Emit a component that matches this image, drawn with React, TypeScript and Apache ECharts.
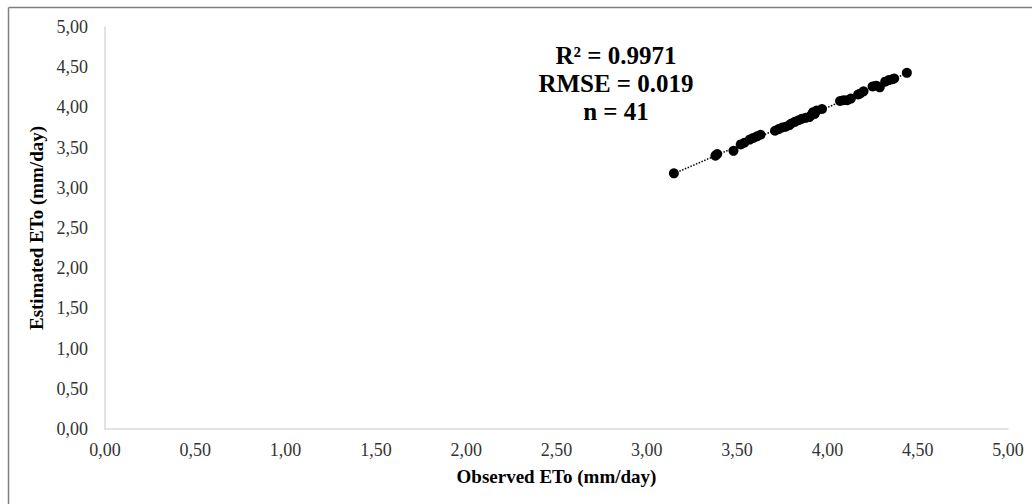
import React, { useEffect, useRef } from "react";
import * as echarts from "echarts";

const observed = [
  3.15, 3.38, 3.39, 3.48, 3.52, 3.54, 3.57, 3.59, 3.61, 3.63,
  3.71, 3.73, 3.75, 3.77, 3.79, 3.8, 3.82, 3.84, 3.86, 3.88,
  3.9, 3.91, 3.92, 3.93, 3.94, 3.97, 4.07, 4.09, 4.11, 4.13,
  4.17, 4.18, 4.2, 4.25, 4.27, 4.29, 4.32, 4.34, 4.36, 4.37, 4.44,
];
const estimated = [
  3.18, 3.4, 3.42, 3.46, 3.54, 3.56, 3.6, 3.62, 3.64, 3.66,
  3.71, 3.73, 3.75, 3.76, 3.78, 3.8, 3.82, 3.84, 3.86, 3.87,
  3.88, 3.9, 3.94, 3.92, 3.96, 3.98, 4.08, 4.09, 4.09, 4.11,
  4.16, 4.17, 4.2, 4.26, 4.27, 4.25, 4.32, 4.34, 4.35, 4.36, 4.43,
];
const axisTicks = [0, 0.5, 1, 1.5, 2, 2.5, 3, 3.5, 4, 4.5, 5];
const statsLines = ["R² = 0.9971", "RMSE = 0.019", "n = 41"];
const xTitle = "Observed ETo (mm/day)";
const yTitle = "Estimated ETo (mm/day)";

const FONT = "'Liberation Serif', 'Times New Roman', serif";

function fmt(v: number) {
  return v.toFixed(2).replace(".", ",");
}

export default function App() {
  const ref = useRef<HTMLDivElement>(null);
  useEffect(() => {
    if (!ref.current) return;
    const chart = echarts.init(ref.current, undefined, { renderer: "svg" });
    const pts = observed.map((x, i) => [x, estimated[i]]);
    const n = observed.length;
    const mx = observed.reduce((a, b) => a + b, 0) / n;
    const my = estimated.reduce((a, b) => a + b, 0) / n;
    let sxy = 0, sxx = 0;
    for (let i = 0; i < n; i++) {
      sxy += (observed[i] - mx) * (estimated[i] - my);
      sxx += (observed[i] - mx) ** 2;
    }
    const slope = sxy / sxx;
    const icpt = my - slope * mx;
    const xmin = Math.min(...observed);
    const xmax = Math.max(...observed);
    const trend = [
      [xmin, icpt + slope * xmin],
      [xmax, icpt + slope * xmax],
    ];
    const axisCommon = {
      type: "value" as const,
      min: axisTicks[0],
      max: axisTicks[axisTicks.length - 1],
      interval: axisTicks[1] - axisTicks[0],
      axisLine: { show: true, lineStyle: { color: "#d9d9d9", width: 1.5 } },
      axisTick: { show: false },
      splitLine: { show: false },
      axisLabel: {
        color: "#333",
        fontFamily: FONT,
        fontSize: 18,
        formatter: (v: number) => fmt(v),
      },
      nameLocation: "middle" as const,
      nameTextStyle: {
        color: "#000",
        fontFamily: FONT,
        fontSize: 19,
        fontWeight: "bold" as const,
      },
    };
    chart.setOption({
      animation: false,
      grid: { left: 105, right: 24, top: 27, bottom: 75, containLabel: false },
      xAxis: {
        ...axisCommon,
        name: xTitle,
        nameGap: 38,
        axisLabel: { ...axisCommon.axisLabel, margin: 12 },
      },
      yAxis: {
        ...axisCommon,
        name: yTitle,
        nameGap: 58,
        axisLabel: { ...axisCommon.axisLabel, margin: 17 },
      },
      series: [
        {
          type: "line",
          data: trend,
          symbol: "none",
          lineStyle: { color: "#000", width: 1.5, type: "dotted" },
          z: 1,
        },
        {
          type: "scatter",
          data: pts,
          symbol: "circle",
          symbolSize: 10,
          itemStyle: { color: "#000", opacity: 1 },
          z: 2,
        },
      ],
      graphic: [
        {
          type: "line",
          shape: { x1: 8.5, y1: 7.5, x2: 1040, y2: 7.5 },
          style: { stroke: "#808080", lineWidth: 1.5 },
        },
        {
          type: "line",
          shape: { x1: 8.5, y1: 7.5, x2: 8.5, y2: 520 },
          style: { stroke: "#808080", lineWidth: 1.5 },
        },
        {
          type: "text",
          x: 616,
          y: 41,
          style: {
            text: statsLines.join("\n"),
            fill: "#000",
            font: `bold 25px ${FONT}`,
            lineHeight: 28,
            align: "center",
            verticalAlign: "top",
          },
        } as any,
      ],
    });
    return () => chart.dispose();
  }, []);
  return (
    <div
      ref={ref}
      style={{ position: "fixed", left: 0, top: 0, width: 1032, height: 504, background: "#fff" }}
    />
  );
}
